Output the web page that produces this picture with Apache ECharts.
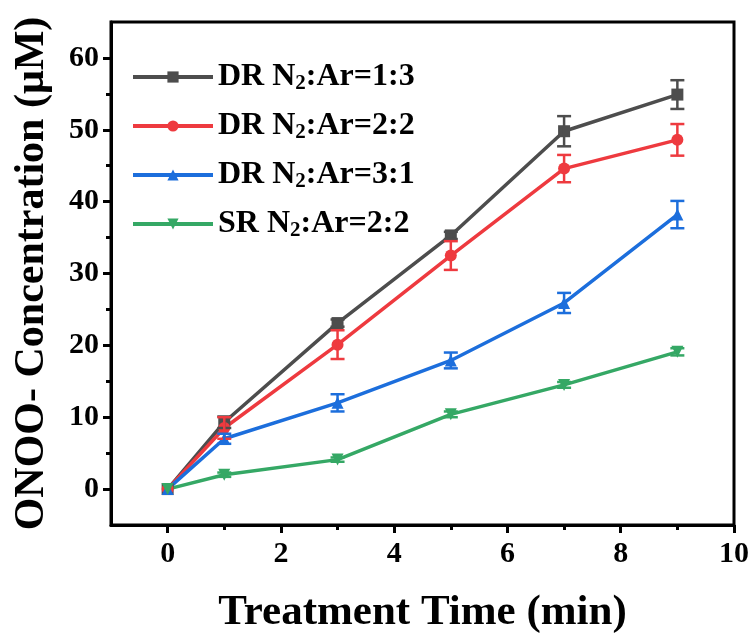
<!DOCTYPE html>
<html style="height: 100%">
<head>
    <meta charset="utf-8">
    <title>ONOO- Concentration</title>
    <script src="https://cdn.jsdelivr.net/npm/echarts@6/dist/echarts.min.js"></script>
</head>
<body style="height: 100%; margin: 0; background: #fff">
<div id="main" style="width: 756px; height: 639px"></div>
<script type="text/javascript">

    // data
    var times = [0, 1, 3, 5, 7, 9];
    var names = ['DR N2:Ar=1:3', 'DR N2:Ar=2:2', 'DR N2:Ar=3:1', 'SR N2:Ar=2:2'];
    var dr13 = [0, 9.3, 23.1, 35.3, 49.8, 54.9];
    var dr13Err = [0, 0.8, 0.5, 0.5, 2.1, 2.0];
    var dr22 = [0, 8.5, 20.1, 32.5, 44.6, 48.6];
    var dr22Err = [0, 1.5, 2.0, 2.0, 1.9, 2.2];
    var dr31 = [0, 7.0, 12.0, 17.9, 25.9, 38.2];
    var dr31Err = [0, 0.7, 1.2, 1.1, 1.4, 1.9];
    var sr22 = [0, 2.0, 4.1, 10.4, 14.5, 19.1];
    var sr22Err = [0, 0.3, 0.3, 0.4, 0.4, 0.5];

    var xLabels = [0, 2, 4, 6, 8, 10];
    var xMinor = [1, 3, 5, 7, 9];
    var yLabels = [0, 10, 20, 30, 40, 50, 60];
    var yMinor = [5, 15, 25, 35, 45, 55];

    var colors = ['#4d4d4d', '#ee3a3f', '#1c6edc', '#35a865'];
    var symbols = ['rect', 'circle', 'triangle', 'triangle'];
    var rotates = [0, 0, 0, 180];
    var values = [dr13, dr22, dr31, sr22];
    var errs = [dr13Err, dr22Err, dr31Err, sr22Err];

    var font = "'Liberation Serif', 'Times New Roman', serif";

    var myChart = echarts.init(document.getElementById('main'));

    function pairs(v) {
        return times.map(function (t, i) { return [t, v[i]]; });
    }

    // vertical error bar with caps
    function errRender(params, api) {
        var x = api.value(0), y = api.value(1), e = api.value(2);
        if (!e) return null;
        var hi = api.coord([x, y + e]);
        var lo = api.coord([x, y - e]);
        var w = 7;
        var st = { stroke: api.visual('color'), lineWidth: 2.5 };
        return {
            type: 'group',
            children: [
                { type: 'line', shape: { x1: hi[0], y1: hi[1], x2: lo[0], y2: lo[1] }, style: st },
                { type: 'line', shape: { x1: hi[0] - w, y1: hi[1], x2: hi[0] + w, y2: hi[1] }, style: st },
                { type: 'line', shape: { x1: lo[0] - w, y1: lo[1], x2: lo[0] + w, y2: lo[1] }, style: st }
            ]
        };
    }

    var series = [];
    names.forEach(function (n, k) {
        series.push({
            name: n,
            type: 'line',
            data: pairs(values[k]),
            symbol: symbols[k],
            symbolRotate: rotates[k],
            symbolSize: 12,
            itemStyle: { color: colors[k] },
            lineStyle: { color: colors[k], width: 3.5 },
            z: 3
        });
        series.push({
            name: n + ' err',
            type: 'custom',
            renderItem: errRender,
            itemStyle: { color: colors[k] },
            data: times.map(function (t, i) { return [t, values[k][i], errs[k][i]]; }),
            z: 4
        });
    });

    var tickStyle = { color: '#000', width: 3 };

    option = {
        animation: false,
        backgroundColor: '#fff',
        grid: {
            left: 111, right: 22, top: 22, bottom: 112,
            show: true, borderColor: '#000', borderWidth: 3
        },
        legend: {
            data: names,
            orient: 'vertical',
            left: 126,
            top: 52,
            itemWidth: 80,
            itemHeight: 14,
            itemGap: 12,
            lineStyle: { width: 4 },
            formatter: function (n) {
                var p = n.split('N2');
                return '{t|' + p[0] + 'N}{s|2}{t|' + p[1] + '}';
            },
            textStyle: {
                rich: {
                    t: { fontFamily: font, fontWeight: 'bold', fontSize: 32, color: '#000', lineHeight: 34 },
                    s: { fontFamily: font, fontWeight: 'bold', fontSize: 21, color: '#000', lineHeight: 34, verticalAlign: 'bottom', padding: [16, 0, 0, 0] }
                }
            }
        },
        xAxis: [{
            type: 'value',
            min: -1, max: 10, interval: 1,
            name: 'Treatment Time (min)',
            nameLocation: 'middle',
            nameGap: 66,
            nameTextStyle: { fontFamily: font, fontWeight: 'bold', fontSize: 43, color: '#000' },
            axisLine: { onZero: false, lineStyle: { color: '#000', width: 3 } },
            axisTick: { length: 8, lineStyle: tickStyle, customValues: xLabels },
            axisLabel: { customValues: xLabels, margin: 14, fontFamily: font, fontWeight: 'bold', fontSize: 30, color: '#000' },
            splitLine: { show: false }
        }, {
            type: 'value',
            position: 'bottom',
            min: -1, max: 10, interval: 1,
            axisLine: { show: false, onZero: false },
            axisTick: { length: 5, lineStyle: tickStyle, customValues: xMinor },
            axisLabel: { show: false },
            splitLine: { show: false }
        }],
        yAxis: [{
            type: 'value',
            min: -5, max: 65, interval: 5,
            name: 'ONOO- Concentration (\u03bcM)',
            nameLocation: 'middle',
            nameGap: 58,
            nameTextStyle: { fontFamily: font, fontWeight: 'bold', fontSize: 42, color: '#000' },
            axisLine: { onZero: false, lineStyle: { color: '#000', width: 3 } },
            axisTick: { length: 8, lineStyle: tickStyle, customValues: yLabels },
            axisLabel: { customValues: yLabels, margin: 12, fontFamily: font, fontWeight: 'bold', fontSize: 30, color: '#000' },
            splitLine: { show: false }
        }, {
            type: 'value',
            position: 'left',
            min: -5, max: 65, interval: 5,
            axisLine: { show: false, onZero: false },
            axisTick: { length: 5, lineStyle: tickStyle, customValues: yMinor },
            axisLabel: { show: false },
            splitLine: { show: false }
        }],
        series: series
    };

    myChart.setOption(option);
</script>
</body>
</html>
